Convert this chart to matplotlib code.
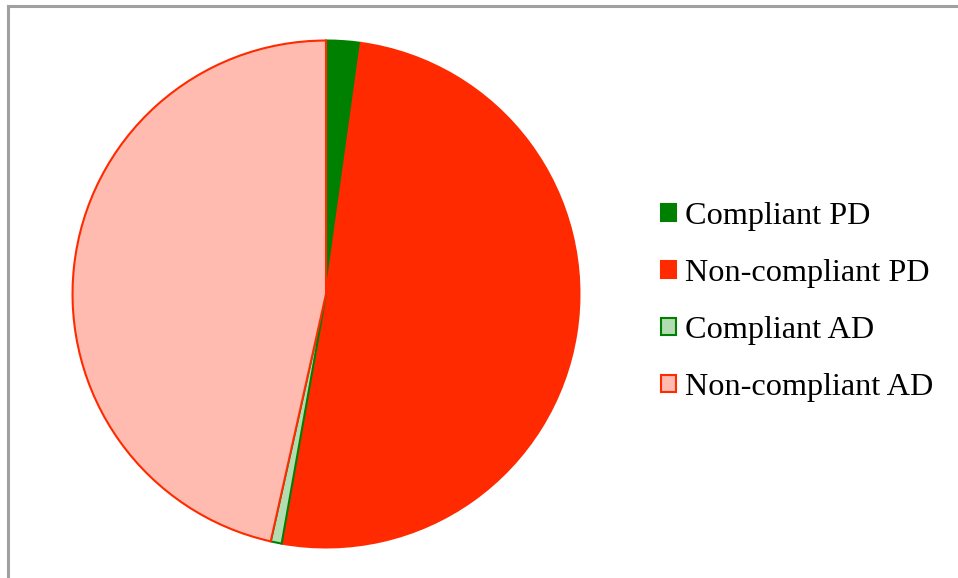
import matplotlib.pyplot as plt
from matplotlib.lines import Line2D
from matplotlib.patches import Patch

plt.rcParams['font.family'] = ['Liberation Serif', 'DejaVu Serif']

# share of each group, clockwise from 12 o'clock
labels = ["Compliant PD", "Non-compliant PD", "Compliant AD", "Non-compliant AD"]
shares = [2.2, 50.6, 0.7, 46.5]
fills = ["#008000", "#ff2a00", "#b3dcb3", "#ffbbb0"]
edges = ["#008000", "#ff2a00", "#008000", "#ff2a00"]

W, H = 958, 578
fig = plt.figure(figsize=(W / 100, H / 100), dpi=100)

# pie centred at (326, 294) px with a radius of about 254 px
r = 256
ax = fig.add_axes([(326 - r) / W, 1 - (294 + r) / H, 2 * r / W, 2 * r / H])
wedges, _ = ax.pie(shares, colors=fills, startangle=90, counterclock=False,
                   radius=1.0, wedgeprops=dict(linewidth=1.5))
for w, ec in zip(wedges, edges):
    w.set_edgecolor(ec)
ax.set_xlim(-1.01, 1.01)
ax.set_ylim(-1.01, 1.01)
ax.set_aspect('equal')
ax.axis('off')

# grey frame along the top and left
fig.add_artist(Line2D([7.5 / W, 957 / W], [1 - 5.5 / H, 1 - 5.5 / H], color="#a0a0a0", lw=2.2))
fig.add_artist(Line2D([7.5 / W, 7.5 / W], [0, 1 - 5.5 / H], color="#a0a0a0", lw=2.2))

handles = [Patch(facecolor=f, edgecolor=e, linewidth=1.5) for f, e in zip(fills, edges)]
fig.legend(handles, labels, loc='center left', bbox_to_anchor=(661 / W, 1 - 302 / H),
           frameon=False, fontsize=23.2, handlelength=0.47, handleheight=0.47,
           handletextpad=0.28, labelspacing=0.87, borderaxespad=0, borderpad=0)

fig.savefig("out.png", dpi=100)
